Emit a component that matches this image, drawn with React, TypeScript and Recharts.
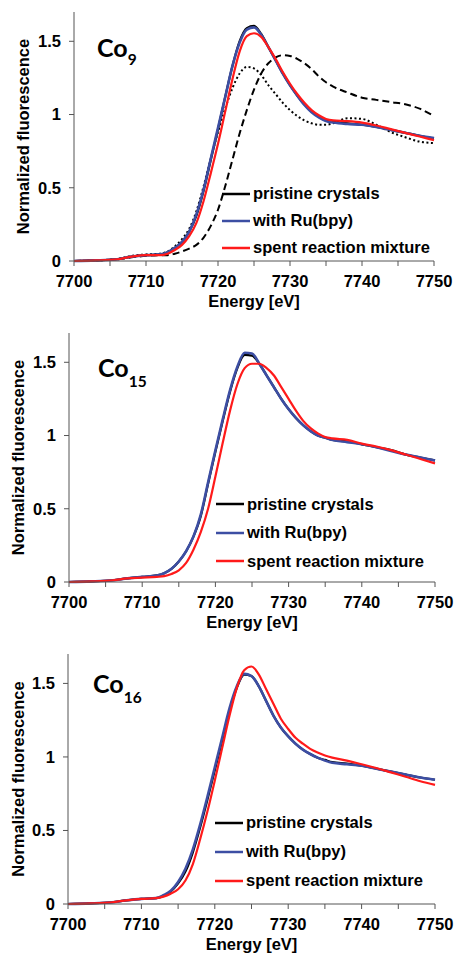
import { LineChart, Line, XAxis, YAxis, Legend, Label, Customized } from 'recharts';

const energy = [7700, 7703, 7706, 7708, 7710, 7712, 7713, 7714, 7715, 7716, 7717, 7718, 7719, 7720, 7721, 7722, 7723, 7724, 7725, 7726, 7727, 7728, 7729, 7730, 7731, 7732, 7733, 7734, 7735, 7736, 7738, 7740, 7742, 7744, 7746, 7748, 7750];
const xTicks = [7700, 7705, 7710, 7715, 7720, 7725, 7730, 7735, 7740, 7745, 7750];
const yTicks = [0, 0.5, 1, 1.5];

// Co9
const co9Pristine = [0, 0.004, 0.012, 0.03, 0.04, 0.045, 0.06, 0.09, 0.13, 0.2, 0.31, 0.48, 0.69, 0.9, 1.12, 1.33, 1.5, 1.59, 1.605, 1.55, 1.46, 1.37, 1.28, 1.2, 1.13, 1.07, 1.02, 0.985, 0.96, 0.95, 0.94, 0.93, 0.915, 0.895, 0.875, 0.855, 0.835];
const co9Ru = [0, 0.004, 0.012, 0.03, 0.04, 0.045, 0.06, 0.09, 0.13, 0.2, 0.32, 0.49, 0.7, 0.91, 1.12, 1.33, 1.49, 1.58, 1.595, 1.545, 1.46, 1.37, 1.28, 1.2, 1.13, 1.065, 1.015, 0.98, 0.955, 0.945, 0.935, 0.93, 0.915, 0.895, 0.875, 0.855, 0.84];
const co9Spent = [0, 0.004, 0.012, 0.03, 0.04, 0.04, 0.05, 0.075, 0.11, 0.17, 0.26, 0.41, 0.6, 0.8, 1.02, 1.24, 1.43, 1.535, 1.555, 1.53, 1.46, 1.38, 1.29, 1.21, 1.14, 1.08, 1.03, 0.995, 0.97, 0.96, 0.955, 0.945, 0.925, 0.9, 0.875, 0.85, 0.825];
const co9Dotted = [0, 0.004, 0.014, 0.035, 0.045, 0.05, 0.065, 0.1, 0.15, 0.22, 0.34, 0.51, 0.7, 0.88, 1.04, 1.18, 1.28, 1.325, 1.315, 1.27, 1.2, 1.14, 1.08, 1.03, 0.99, 0.96, 0.94, 0.93, 0.93, 0.94, 0.975, 0.97, 0.93, 0.88, 0.845, 0.815, 0.805];
const co9Dashed = [0, 0.004, 0.012, 0.025, 0.035, 0.04, 0.04, 0.05, 0.065, 0.085, 0.11, 0.16, 0.24, 0.35, 0.51, 0.69, 0.87, 1.03, 1.17, 1.28, 1.35, 1.39, 1.405, 1.4, 1.38, 1.35, 1.31, 1.26, 1.22, 1.19, 1.15, 1.115, 1.1, 1.085, 1.07, 1.04, 0.99];

// Co15
const co15Pristine = [0, 0.004, 0.012, 0.025, 0.035, 0.045, 0.06, 0.09, 0.14, 0.21, 0.31, 0.45, 0.67, 0.89, 1.1, 1.3, 1.46, 1.55, 1.545, 1.49, 1.41, 1.33, 1.25, 1.18, 1.12, 1.07, 1.03, 1.0, 0.985, 0.97, 0.96, 0.94, 0.92, 0.9, 0.87, 0.85, 0.83];
const co15Ru = [0, 0.004, 0.012, 0.025, 0.035, 0.045, 0.06, 0.09, 0.14, 0.21, 0.31, 0.46, 0.68, 0.9, 1.11, 1.31, 1.47, 1.565, 1.56, 1.49, 1.41, 1.33, 1.25, 1.18, 1.12, 1.07, 1.03, 1.0, 0.985, 0.97, 0.955, 0.94, 0.92, 0.895, 0.87, 0.85, 0.83];
const co15Spent = [0, 0.004, 0.012, 0.025, 0.03, 0.035, 0.04, 0.055, 0.08, 0.13, 0.22, 0.34, 0.5, 0.72, 0.95, 1.17, 1.35, 1.46, 1.49, 1.49, 1.46, 1.41, 1.33, 1.25, 1.17, 1.1, 1.05, 1.015, 0.99, 0.98, 0.97, 0.945, 0.925, 0.9, 0.87, 0.84, 0.81];

// Co16
const co16Pristine = [0, 0.004, 0.012, 0.025, 0.035, 0.04, 0.055, 0.085, 0.14, 0.22, 0.35, 0.52, 0.71, 0.91, 1.11, 1.31, 1.47, 1.56, 1.55, 1.48, 1.38, 1.28, 1.2, 1.14, 1.09, 1.05, 1.02, 0.995, 0.98, 0.965, 0.955, 0.94, 0.92, 0.9, 0.88, 0.86, 0.845];
const co16Ru = [0, 0.004, 0.012, 0.025, 0.035, 0.04, 0.06, 0.09, 0.15, 0.24, 0.37, 0.54, 0.73, 0.93, 1.13, 1.33, 1.48, 1.565, 1.55, 1.48, 1.38, 1.28, 1.2, 1.14, 1.09, 1.05, 1.02, 0.995, 0.975, 0.96, 0.95, 0.94, 0.92, 0.9, 0.88, 0.86, 0.845];
const co16Spent = [0, 0.004, 0.012, 0.025, 0.035, 0.04, 0.05, 0.07, 0.1, 0.16, 0.27, 0.44, 0.63, 0.84, 1.06, 1.28, 1.47, 1.59, 1.615, 1.56, 1.46, 1.36, 1.26, 1.19, 1.13, 1.09, 1.055, 1.03, 1.01, 0.995, 0.975, 0.95, 0.925, 0.895, 0.865, 0.835, 0.81];

const seriesNames = ['pristine crystals', 'with Ru(bpy)', 'spent reaction mixture'];
const seriesColors = ['#000000', '#3c4ea3', '#ff1a1a'];

const FONT = '"Liberation Sans", Arial, sans-serif';
const AXIS = '#555';

function rows(series: Record<string, number[]>) {
  return energy.map((e, i) => {
    const r: Record<string, number> = { energy: e };
    Object.keys(series).forEach((k) => { r[k] = series[k][i]; });
    return r;
  });
}

function LegendBox({ rowH }: { rowH: number }) {
  return (
    <div style={{ fontFamily: FONT, fontWeight: 700, fontSize: 16.5, color: '#000' }}>
      {seriesNames.map((name, i) => (
        <div key={name} style={{ height: rowH, display: 'flex', alignItems: 'center' }}>
          <svg width={28} height={6} style={{ marginRight: 3 }}>
            <line x1={0} x2={28} y1={3} y2={3} stroke={seriesColors[i]} strokeWidth={2.5} />
          </svg>
          <span style={{ whiteSpace: 'nowrap' }}>{name}</span>
        </div>
      ))}
    </div>
  );
}

interface PanelProps {
  data: Record<string, number>[];
  extras?: boolean;
  top: number;
  height: number;
  plotTop: number;
  plotBottom: number;
  plotLeft: number;
  plotRight: number;
  yLabelX: number;
  legendLeft: number;
  legendTop: number;
  rowH: number;
  title: { x: number; y: number; sub: string; subDy: number };
}

function Panel(p: PanelProps) {
  const xAxisH = 47;
  const margin = {
    top: p.plotTop,
    right: 454 - p.plotRight,
    left: 0,
    bottom: p.height - p.plotBottom - xAxisH,
  };
  const tickStyle = { fontFamily: FONT, fontWeight: 700, fontSize: 16.5, fill: '#000' };
  return (
    <div style={{ position: 'absolute', left: 0, top: p.top }}>
      <LineChart width={454} height={p.height} data={p.data} margin={margin}>
        <XAxis
          dataKey="energy"
          type="number"
          domain={[7700, 7750]}
          ticks={xTicks}
          tickFormatter={(v: number) => (v % 10 === 0 ? String(v) : '')}
          height={xAxisH}
          stroke={AXIS}
          tickSize={5}
          tickMargin={9}
          tick={tickStyle}
          interval={0}
        >
          <Label
            content={({ viewBox }: any) => (
              <text
                x={viewBox.x + viewBox.width / 2}
                y={viewBox.y + 46}
                textAnchor="middle"
                style={{ fontFamily: FONT, fontWeight: 700, fontSize: 16.5 }}
              >
                Energy [eV]
              </text>
            )}
          />
        </XAxis>
        <XAxis xAxisId="top" orientation="top" dataKey="energy" type="number" domain={[7700, 7750]} tick={false} tickLine={false} height={0} stroke={AXIS} />
        <YAxis
          domain={[0, 1.7]}
          ticks={yTicks}
          width={p.plotLeft}
          stroke={AXIS}
          tickSize={5}
          tickMargin={8}
          tick={tickStyle}
          interval={0}
        >
          <Label
            content={({ viewBox }: any) => {
              const cy = viewBox.y + viewBox.height / 2;
              return (
                <text
                  x={p.yLabelX}
                  y={cy}
                  transform={`rotate(-90 ${p.yLabelX} ${cy})`}
                  textAnchor="middle"
                  dominantBaseline="central"
                  style={{ fontFamily: FONT, fontWeight: 700, fontSize: 16.5 }}
                >
                  Normalized fluorescence
                </text>
              );
            }}
          />
        </YAxis>
        <YAxis yAxisId="right" orientation="right" domain={[0, 1.7]} tick={false} tickLine={false} width={0} stroke={AXIS} />
        {p.extras && (
          <Line dataKey="dashed" type="monotone" stroke="#000" strokeWidth={2} strokeDasharray="7 4" dot={false} legendType="none" isAnimationActive={false} />
        )}
        {p.extras && (
          <Line dataKey="dotted" type="monotone" stroke="#000" strokeWidth={2} strokeDasharray="2 2.5" dot={false} legendType="none" isAnimationActive={false} />
        )}
        <Line dataKey="pristine" name={seriesNames[0]} type="monotone" stroke={seriesColors[0]} strokeWidth={2.2} dot={false} isAnimationActive={false} />
        <Line dataKey="ru" name={seriesNames[1]} type="monotone" stroke={seriesColors[1]} strokeWidth={2.6} dot={false} isAnimationActive={false} />
        <Line dataKey="spent" name={seriesNames[2]} type="monotone" stroke={seriesColors[2]} strokeWidth={2.2} dot={false} isAnimationActive={false} />
        <Legend
          layout="vertical"
          align="center"
          verticalAlign="middle"
          wrapperStyle={{ left: p.legendLeft, top: p.legendTop, width: 'auto' }}
          content={() => <LegendBox rowH={p.rowH} />}
        />
        <Customized
          component={() => (
            <text x={p.title.x} y={p.title.y} style={{ fontFamily: 'Lato, sans-serif', fontWeight: 700, fontSize: 25 }}>
              Co
              <tspan dy={p.title.subDy} style={{ fontSize: 15.5 }}>{p.title.sub}</tspan>
            </text>
          )}
        />
      </LineChart>
    </div>
  );
}

export default function App() {
  const d9 = rows({ pristine: co9Pristine, ru: co9Ru, spent: co9Spent, dotted: co9Dotted, dashed: co9Dashed });
  const d15 = rows({ pristine: co15Pristine, ru: co15Ru, spent: co15Spent });
  const d16 = rows({ pristine: co16Pristine, ru: co16Ru, spent: co16Spent });
  return (
    <div style={{ position: 'absolute', left: 0, top: 0, width: 454, height: 957 }}>
      <Panel
        data={d9}
        extras
        top={0}
        height={320}
        plotTop={12}
        plotBottom={261}
        plotLeft={74}
        plotRight={434}
        yLabelX={23}
        legendLeft={222}
        legendTop={180}
        rowH={27}
        title={{ x: 97, y: 57, sub: '9', subDy: 8 }}
      />
      <Panel
        data={d15}
        top={320}
        height={320}
        plotTop={13}
        plotBottom={262}
        plotLeft={69}
        plotRight={435}
        yLabelX={18}
        legendLeft={216}
        legendTop={170}
        rowH={28.5}
        title={{ x: 98, y: 57, sub: '15', subDy: 10 }}
      />
      <Panel
        data={d16}
        top={640}
        height={317}
        plotTop={14}
        plotBottom={264}
        plotLeft={68}
        plotRight={435}
        yLabelX={18}
        legendLeft={215}
        legendTop={168}
        rowH={29}
        title={{ x: 93, y: 53, sub: '16', subDy: 10 }}
      />
    </div>
  );
}
